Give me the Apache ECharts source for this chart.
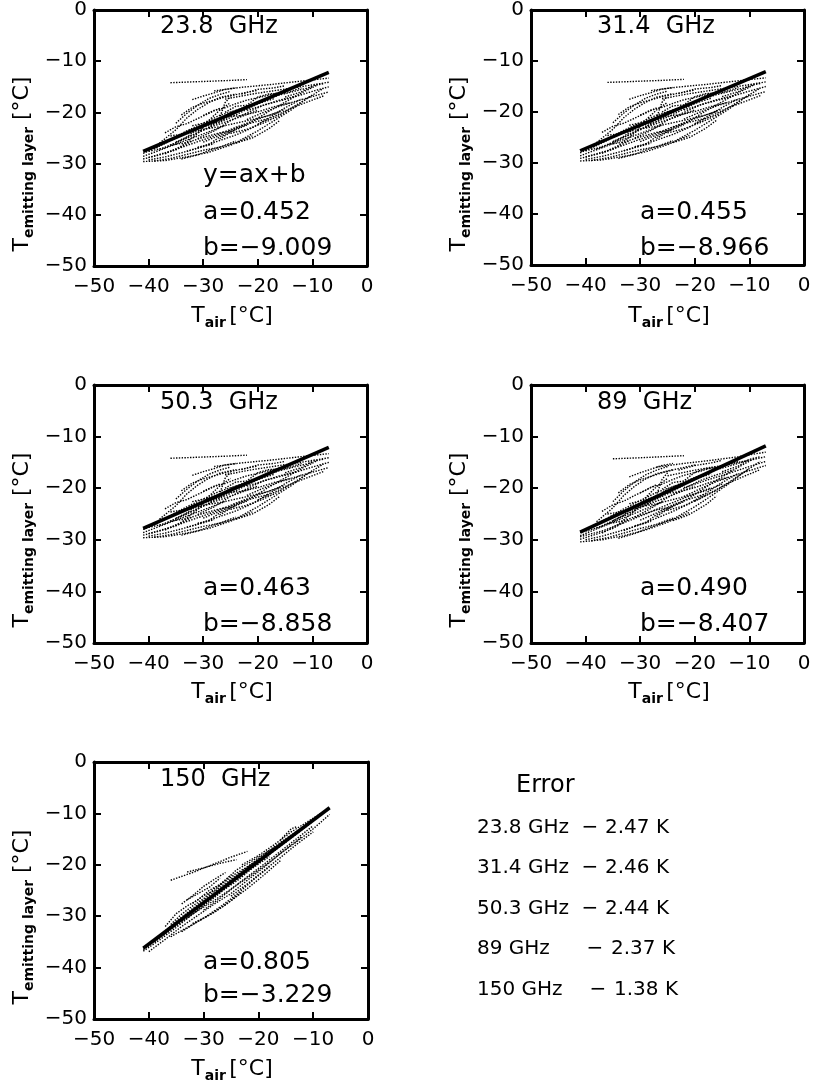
<!DOCTYPE html>
<html><head><meta charset="utf-8">
<script src="https://cdn.jsdelivr.net/npm/echarts@6/dist/echarts.min.js"></script>
<style>html,body{margin:0;padding:0;background:#fff}#c{width:816px;height:1082px}</style>
</head><body><div id="c"></div>
<script>
// ---------------- data ----------------
const axisTicks = [-50, -40, -30, -20, -10, 0];
const panelTitles = ['23.8  GHz', '31.4  GHz', '50.3  GHz', '89  GHz', '150  GHz'];
const slopeA = ['0.452', '0.455', '0.463', '0.490', '0.805'];
const interceptB = ['\u22129.009', '\u22128.966', '\u22128.858', '\u22128.407', '\u22123.229'];
const showEquation = [true, false, false, false, false];

// fitted lines (endpoints)
const fit238 = [[-41, -27.6], [-7, -12.2]];
const fit314 = [[-41, -27.6], [-7, -12.1]];
const fit503 = [[-41, -27.8], [-7, -12.1]];
const fit89  = [[-41, -28.5], [-7, -11.8]];
const fit150 = [[-41, -36.2], [-7, -8.9]];

// dotted streaks of the scatter cloud; the three lower channels look the same at this size
const cloudLow = [
 [[-36,-14.2],[-31,-14.0],[-26,-13.8],[-22,-13.6]],
 [[-28,-15.8],[-23,-15.1],[-18,-14.6],[-13,-14.0],[-7,-13.3]],
 [[-26,-17.4],[-21,-16.4],[-16,-15.6],[-11,-14.8],[-7,-14.1]],
 [[-22,-19.6],[-18,-18.3],[-14,-17.2],[-10,-15.9],[-7,-15.0]],
 [[-41,-29.6],[-37,-29.4],[-33,-28.7],[-29,-27.8],[-25,-26.4],[-21,-24.6]],
 [[-40,-28.8],[-36,-27.6],[-32,-26.1],[-28,-24.6],[-24,-22.9],[-20,-21.3],[-16,-19.9]],
 [[-39,-27.1],[-36,-25.3],[-33,-23.6],[-30,-22.1],[-27,-20.6],[-24,-19.6],[-20,-18.3],[-17,-17.3]],
 [[-38,-26.0],[-35,-23.4],[-33,-21.1],[-31,-19.4],[-29,-18.1],[-27,-17.1],[-24,-16.4]],
 [[-36,-24.6],[-33,-24.1],[-30,-23.3],[-27,-22.8],[-24,-22.1],[-21,-21.4],[-18,-20.6],[-15,-19.4]],
 [[-35,-22.1],[-33,-20.2],[-31,-18.6],[-29,-17.3],[-27,-16.5],[-25,-15.9]],
 [[-33,-27.6],[-30,-26.6],[-27,-25.5],[-24,-24.4],[-21,-23.0],[-18,-21.1],[-15,-19.1],[-12,-17.4]],
 [[-31,-25.1],[-28,-23.6],[-25,-21.6],[-22,-20.1],[-19,-18.6],[-16,-17.6],[-13,-16.8]],
 [[-37,-28.1],[-34,-26.6],[-31,-24.1],[-29,-21.6],[-27,-19.6],[-25,-18.1]],
 [[-30,-20.6],[-28,-19.6],[-26,-19.1],[-24,-18.3],[-22,-17.6],[-19,-16.9],[-16,-16.1]],
 [[-34,-29.1],[-31,-28.3],[-28,-27.1],[-24,-25.9],[-20,-23.6],[-17,-21.6],[-14,-19.6],[-11,-17.3],[-8,-15.3]],
 [[-41,-29.1],[-38,-28.3],[-35,-27.3],[-32,-25.6]],
 [[-25,-24.1],[-22,-23.3],[-19,-22.1],[-16,-20.6],[-13,-18.6],[-10,-16.6]],
 [[-29,-23.1],[-27,-21.1],[-26,-18.1],[-25,-16.9]],
 [[-40,-27.6],[-37,-26.9],[-34,-25.4],[-31,-23.9],[-28,-22.4],[-25,-21.0],[-22,-19.4],[-19,-17.8]],
 [[-32,-22.6],[-29,-21.9],[-26,-20.9],[-23,-20.6],[-20,-19.9],[-17,-18.9],[-14,-18.1]],
 [[-23,-16.4],[-20,-15.5],[-17,-15.2],[-15,-14.8]],
 [[-36,-26.4],[-33,-25.9],[-30,-24.9],[-27,-24.0],[-24,-23.5]],
 [[-41,-28.6],[-38,-27.4],[-35,-26.2],[-32,-25.0],[-29,-23.8],[-26,-22.6]],
 [[-41,-28.0],[-38,-26.6],[-35,-25.0],[-32,-23.4],[-29,-22.2],[-26,-21.2]],
 [[-40,-29.3],[-37,-28.7],[-34,-27.9],[-31,-27.0],[-28,-26.1]],
 [[-39,-29.5],[-36,-29.0],[-33,-28.2],[-30,-27.4],[-27,-26.8],[-24,-25.6]],
 [[-38,-27.2],[-35,-26.0],[-32,-24.5],[-29,-23.0],[-26,-21.9],[-23,-20.8],[-20,-19.6]],
 [[-37,-24.0],[-35,-22.8],[-33,-22.2],[-31,-21.2],[-29,-20.2],[-27,-19.2]],
 [[-34,-20.5],[-32,-19.0],[-30,-18.2],[-28,-17.6],[-26,-17.0],[-23,-16.3],[-20,-15.7]],
 [[-32,-17.5],[-30,-16.8],[-28,-16.2],[-26,-15.5],[-24,-15.2]],
 [[-28,-22.0],[-25,-20.0],[-22,-18.8],[-19,-17.6],[-16,-16.6],[-13,-15.8],[-10,-15.0]],
 [[-27,-25.2],[-24,-23.2],[-21,-21.8],[-18,-19.8],[-15,-18.0],[-12,-16.2],[-9,-14.6]],
 [[-22,-21.4],[-19,-20.0],[-16,-18.8],[-13,-17.8],[-10,-16.9],[-7,-16.0]],
 [[-20,-22.3],[-17,-20.8],[-14,-19.2],[-11,-18.0],[-8,-16.8]],
 [[-30,-25.8],[-27,-24.5],[-24,-23.0],[-21,-22.0],[-18,-21.2]],
 [[-35,-25.8],[-33,-24.8],[-31,-23.2],[-29,-22.5],[-27,-21.8],[-25,-20.6],[-23,-19.5]],
 [[-26,-20.0],[-24,-18.8],[-22,-18.6],[-20,-17.0],[-18,-16.4],[-15,-16.2],[-12,-15.2]],
 [[-24,-26.0],[-21,-25.0],[-18,-23.2],[-16,-21.6]],
 [[-15,-17.0],[-12,-16.0],[-10,-14.8],[-8,-14.4]],
 [[-31,-26.8],[-29,-26.3],[-27,-24.8],[-25,-23.8],[-22,-22.5]]
];
const cloud89 = [
 [[-35,-14.3],[-30,-14.1],[-26,-13.9],[-22,-13.7]],
 [[-27,-15.9],[-22,-15.2],[-17,-14.6],[-12,-13.9],[-7,-13.0]],
 [[-25,-17.6],[-20,-16.5],[-15,-15.6],[-10,-14.6],[-7,-13.9]],
 [[-22,-19.9],[-18,-18.5],[-14,-17.2],[-10,-15.8],[-7,-14.8]],
 [[-41,-30.4],[-37,-30.0],[-33,-29.2],[-29,-28.1],[-25,-26.6],[-21,-24.7]],
 [[-41,-29.4],[-37,-28.3],[-33,-26.7],[-29,-25.0],[-25,-23.2],[-21,-21.5],[-17,-19.9]],
 [[-39,-27.6],[-36,-25.8],[-33,-24.0],[-30,-22.4],[-27,-20.8],[-24,-19.7],[-20,-18.3],[-17,-17.2]],
 [[-38,-26.5],[-35,-23.8],[-33,-21.4],[-31,-19.6],[-29,-18.2],[-27,-17.2],[-24,-16.4]],
 [[-36,-25.0],[-33,-24.5],[-30,-23.6],[-27,-23.0],[-24,-22.2],[-21,-21.4],[-18,-20.5],[-15,-19.2]],
 [[-35,-22.6],[-33,-20.5],[-31,-18.8],[-29,-17.4],[-27,-16.5],[-25,-15.8]],
 [[-33,-28.2],[-30,-27.0],[-27,-25.8],[-24,-24.5],[-21,-23.0],[-18,-21.0],[-15,-18.9],[-12,-17.1]],
 [[-31,-25.6],[-28,-23.9],[-25,-21.8],[-22,-20.1],[-19,-18.5],[-16,-17.4],[-13,-16.5]],
 [[-37,-28.7],[-34,-27.0],[-31,-24.4],[-29,-21.8],[-27,-19.7],[-25,-18.1]],
 [[-30,-20.9],[-28,-19.8],[-26,-19.2],[-24,-18.3],[-22,-17.5],[-19,-16.7],[-16,-15.8]],
 [[-34,-29.7],[-31,-28.8],[-28,-27.5],[-24,-26.0],[-20,-23.6],[-17,-21.5],[-14,-19.3],[-11,-16.9],[-8,-14.8]],
 [[-41,-29.9],[-38,-28.9],[-35,-27.8],[-32,-26.0]],
 [[-25,-24.3],[-22,-23.4],[-19,-22.0],[-16,-20.4],[-13,-18.3],[-10,-16.2]],
 [[-29,-23.4],[-27,-21.3],[-26,-18.3],[-25,-17.0]],
 [[-40,-28.3],[-37,-27.4],[-34,-25.8],[-31,-24.2],[-28,-22.6],[-25,-21.1],[-22,-19.4],[-19,-17.7]],
 [[-32,-23.0],[-29,-22.2],[-26,-21.1],[-23,-20.7],[-20,-19.9],[-17,-18.8],[-14,-17.9]],
 [[-23,-16.5],[-20,-15.6],[-17,-15.1],[-15,-14.6]],
 [[-36,-26.9],[-33,-26.3],[-30,-25.2],[-27,-24.2],[-24,-23.6]],
 [[-41,-29.2],[-38,-27.9],[-35,-26.6],[-32,-25.3],[-29,-24.0],[-26,-22.7]],
 [[-41,-28.6],[-38,-27.1],[-35,-25.4],[-32,-23.8],[-29,-22.4],[-26,-21.3]],
 [[-40,-30.0],[-37,-29.3],[-34,-28.4],[-31,-27.4],[-28,-26.4]],
 [[-39,-30.2],[-36,-29.6],[-33,-28.7],[-30,-27.8],[-27,-27.0],[-24,-25.8]],
 [[-38,-27.7],[-35,-26.4],[-32,-24.9],[-29,-23.3],[-26,-22.1],[-23,-20.9],[-20,-19.6]],
 [[-37,-24.5],[-35,-23.2],[-33,-22.5],[-31,-21.4],[-29,-20.4],[-27,-19.3]],
 [[-34,-20.9],[-32,-19.3],[-30,-18.4],[-28,-17.7],[-26,-17.0],[-23,-16.2],[-20,-15.5]],
 [[-32,-17.8],[-30,-17.0],[-28,-16.3],[-26,-15.6],[-24,-15.2]],
 [[-28,-22.3],[-25,-20.2],[-22,-18.8],[-19,-17.5],[-16,-16.4],[-13,-15.5],[-10,-14.5]],
 [[-27,-25.5],[-24,-23.4],[-21,-21.9],[-18,-19.8],[-15,-17.8],[-12,-15.9],[-9,-14.2]],
 [[-22,-21.6],[-19,-20.1],[-16,-18.7],[-13,-17.6],[-10,-16.6],[-7,-15.6]],
 [[-20,-22.5],[-17,-20.8],[-14,-19.1],[-11,-17.7],[-8,-16.4]],
 [[-30,-26.2],[-27,-24.8],[-24,-23.2],[-21,-22.1],[-18,-21.1]],
 [[-35,-26.3],[-33,-25.2],[-31,-23.6],[-29,-22.8],[-27,-22.0],[-25,-20.7],[-23,-19.5]],
 [[-26,-20.2],[-24,-18.9],[-22,-18.6],[-20,-16.9],[-18,-16.2],[-15,-15.9],[-12,-14.8]],
 [[-24,-26.3],[-21,-25.1],[-18,-23.2],[-16,-21.5]],
 [[-15,-16.8],[-12,-15.7],[-10,-14.4],[-8,-13.9]],
 [[-31,-27.3],[-29,-26.7],[-27,-25.1],[-25,-24.0],[-22,-22.6]]
];
const cloud150 = [
 [[-41,-36.8],[-38,-34.6],[-35,-32.2],[-32,-29.6],[-29,-27.2],[-26,-24.6],[-23,-22.0],[-20,-19.6],[-17,-17.2],[-14,-14.8],[-11,-12.3],[-8,-9.8]],
 [[-41,-36.2],[-38,-33.8],[-35,-31.0],[-32,-28.5],[-29,-26.0],[-26,-23.6],[-23,-21.2],[-20,-18.8],[-17,-16.4],[-14,-14.2],[-10,-11.3],[-7,-9.0]],
 [[-40,-36.9],[-37,-34.5],[-34,-32.0],[-31,-29.8],[-28,-27.6],[-25,-25.6],[-22,-23.0],[-19,-20.5],[-16,-17.8],[-13,-15.5],[-10,-13.0],[-7,-10.2]],
 [[-37,-32.0],[-35,-29.5],[-33,-28.0],[-31,-26.8],[-29,-25.0],[-27,-23.8],[-25,-22.0]],
 [[-32,-27.5],[-30,-26.0],[-28,-25.0],[-26,-23.0],[-24,-21.0],[-22,-19.8],[-20,-18.5],[-18,-17.2],[-15,-15.5]],
 [[-36,-23.0],[-32,-21.5],[-28,-19.8],[-25,-18.5],[-22,-17.4]],
 [[-33,-21.4],[-30,-20.6],[-27,-19.7],[-24,-19.0]],
 [[-30,-28.8],[-27,-26.5],[-24,-24.0],[-21,-21.8],[-18,-19.5],[-15,-17.0],[-12,-14.5]],
 [[-39,-35.0],[-36,-32.6],[-33,-30.4],[-30,-27.8],[-27,-25.3],[-24,-23.2],[-21,-20.6],[-18,-18.4]],
 [[-16,-15.2],[-14,-13.0],[-13,-12.6]],
 [[-41,-36.5],[-38,-34.2],[-35,-31.6],[-32,-29.0],[-29,-26.6],[-26,-24.1],[-23,-21.6],[-20,-19.2]],
 [[-40,-35.6],[-37,-33.4],[-34,-30.8],[-31,-28.2],[-28,-25.8],[-25,-23.0],[-22,-20.5],[-19,-18.2],[-16,-16.0]],
 [[-36,-31.6],[-34,-29.6],[-32,-28.0],[-30,-26.6],[-28,-24.6],[-26,-23.2],[-24,-21.6],[-22,-20.4],[-20,-19.0]],
 [[-34,-30.9],[-31,-28.9],[-28,-26.9],[-25,-24.7],[-22,-22.3],[-19,-19.9],[-16,-17.4],[-13,-14.9],[-10,-12.4]],
 [[-25,-26.1],[-22,-23.7],[-19,-21.1],[-16,-18.6],[-13,-16.0],[-10,-13.6]],
 [[-33,-26.8],[-31,-25.6],[-29,-24.4],[-27,-22.6]],
 [[-23,-20.0],[-20,-18.2],[-17,-16.0],[-14,-13.6],[-11,-11.6],[-8,-9.6]],
 [[-36,-34.0],[-33,-32.2],[-30,-30.4],[-27,-28.2],[-24,-25.8],[-21,-23.0],[-18,-20.4]],
 [[-34,-33.0],[-31,-31.0],[-28,-29.2],[-25,-27.0],[-22,-24.6],[-19,-22.0],[-16,-19.2]],
 [[-32,-31.4],[-29,-29.8],[-26,-27.8],[-23,-25.2]],
 [[-34,-27.6],[-32,-26.0],[-30,-24.2],[-28,-22.8],[-26,-21.5]]
];

const errTitle = 'Error';
const errBands = ['23.8 GHz', '31.4 GHz', '50.3 GHz', '89 GHz', '150 GHz'];
const errValues = ['2.47 K', '2.46 K', '2.44 K', '2.37 K', '1.38 K'];

// ---------------- layout ----------------
const FONT = 'DejaVu Sans';
const grids = [
  {left: 94, top: 9, width: 273, height: 257},
  {left: 531, top: 9, width: 273, height: 256},
  {left: 94, top: 385, width: 273, height: 258},
  {left: 531, top: 385, width: 273, height: 258},
  {left: 94, top: 762, width: 274, height: 257}
];
const clouds = [cloudLow, cloudLow, cloudLow, cloud89, cloud150];
const fits = [fit238, fit314, fit503, fit89, fit150];
const annotOffsets = [[166, 203, 239], [166, 203, 239], [166, 203, 239], [166, 203, 239], [166, 200, 233]];

const fmt = v => v < 0 ? '\u2212' + Math.abs(v) : String(v);
const lineStyleAxis = {color: '#000', width: 3};
const tickStyle = {show: true, inside: true, length: 7, lineStyle: {color: '#000', width: 2}};

const xAxes = [], yAxes = [], series = [], graphics = [];
grids.forEach((g, i) => {
  const base = {
    gridIndex: i, type: 'value', min: axisTicks[0], max: axisTicks[axisTicks.length - 1], interval: 10,
    splitLine: {show: false},
    axisLine: {show: true, onZero: false, lineStyle: lineStyleAxis},
    axisTick: tickStyle
  };
  xAxes.push(Object.assign({}, base, {position: 'bottom',
    axisLabel: {show: true, color: '#000', fontSize: 20, fontFamily: FONT, margin: 11, formatter: fmt}}));
  xAxes.push(Object.assign({}, base, {position: 'top', axisLabel: {show: false}}));
  yAxes.push(Object.assign({}, base, {position: 'left',
    axisLabel: {show: true, color: '#000', fontSize: 20, fontFamily: FONT, margin: 7, formatter: fmt}}));
  yAxes.push(Object.assign({}, base, {position: 'right', axisLabel: {show: false}}));

  clouds[i].forEach(tr => series.push({
    type: 'line', xAxisIndex: 2 * i, yAxisIndex: 2 * i, data: tr, showSymbol: false, silent: true,
    lineStyle: {color: '#000', width: 1.4, type: [1.4, 1.4]}, z: 2
  }));
  series.push({
    type: 'line', xAxisIndex: 2 * i, yAxisIndex: 2 * i, data: fits[i], showSymbol: false, silent: true,
    lineStyle: {color: '#000', width: 3.5}, z: 5
  });

  // panel title
  graphics.push({type: 'text', x: g.left + 66, y: g.top + 18,
    style: {text: panelTitles[i], fill: '#000', font: '24px "' + FONT + '"', align: 'left', verticalAlign: 'middle'}});
  // fit annotation
  const o = annotOffsets[i];
  if (showEquation[i]) graphics.push({type: 'text', x: g.left + 109, y: g.top + o[0],
    style: {text: 'y=ax+b', fill: '#000', font: '25px "' + FONT + '"', align: 'left', verticalAlign: 'middle'}});
  graphics.push({type: 'text', x: g.left + 109, y: g.top + o[1],
    style: {text: 'a=' + slopeA[i], fill: '#000', font: '25px "' + FONT + '"', align: 'left', verticalAlign: 'middle'}});
  graphics.push({type: 'text', x: g.left + 109, y: g.top + o[2],
    style: {text: 'b=' + interceptB[i], fill: '#000', font: '25px "' + FONT + '"', align: 'left', verticalAlign: 'middle'}});

  const rich = {
    T: {fontSize: 22, fontFamily: FONT, lineHeight: 28, fill: '#000', color: '#000'},
    s: {fontSize: 14, fontWeight: 'bold', fontFamily: FONT, lineHeight: 15, verticalAlign: 'bottom', fill: '#000', color: '#000'},
    u: {fontSize: 22, fontFamily: FONT, lineHeight: 28, fill: '#000', color: '#000'}
  };
  // x axis name
  graphics.push({type: 'text', x: g.left + 138, y: g.top + 307,
    style: {text: '{T|T}{s|air} {u|[°C]}', rich: rich, align: 'center', verticalAlign: 'middle'}});
  // y axis name
  graphics.push({type: 'text', x: g.left - 72, y: g.top + 155, rotation: Math.PI / 2,
    style: {text: '{T|T}{s|emitting layer}  {u|[°C]}', rich: rich, align: 'center', verticalAlign: 'middle'}});
});

// error table
graphics.push({type: 'text', x: 516, y: 786,
  style: {text: errTitle, fill: '#000', font: '24px "' + FONT + '"', align: 'left', verticalAlign: 'middle'}});
const rowY = [828, 868, 909, 949, 990];
const dashX = [590, 590, 590, 595, 598];
const valX = [605, 605, 605, 611, 614];
errBands.forEach((b, k) => {
  graphics.push({type: 'text', x: 477, y: rowY[k],
    style: {text: b, fill: '#000', font: '20px "' + FONT + '"', align: 'left', verticalAlign: 'middle'}});
  graphics.push({type: 'text', x: dashX[k], y: rowY[k],
    style: {text: '\u2212', fill: '#000', font: '20px "' + FONT + '"', align: 'center', verticalAlign: 'middle'}});
  graphics.push({type: 'text', x: valX[k], y: rowY[k],
    style: {text: errValues[k], fill: '#000', font: '20px "' + FONT + '"', align: 'left', verticalAlign: 'middle'}});
});

const chart = echarts.init(document.getElementById('c'), null, {renderer: 'canvas'});
chart.setOption({
  animation: false,
  backgroundColor: '#fff',
  grid: grids,
  xAxis: xAxes,
  yAxis: yAxes,
  series: series,
  graphic: graphics
});
</script>
</body></html>
